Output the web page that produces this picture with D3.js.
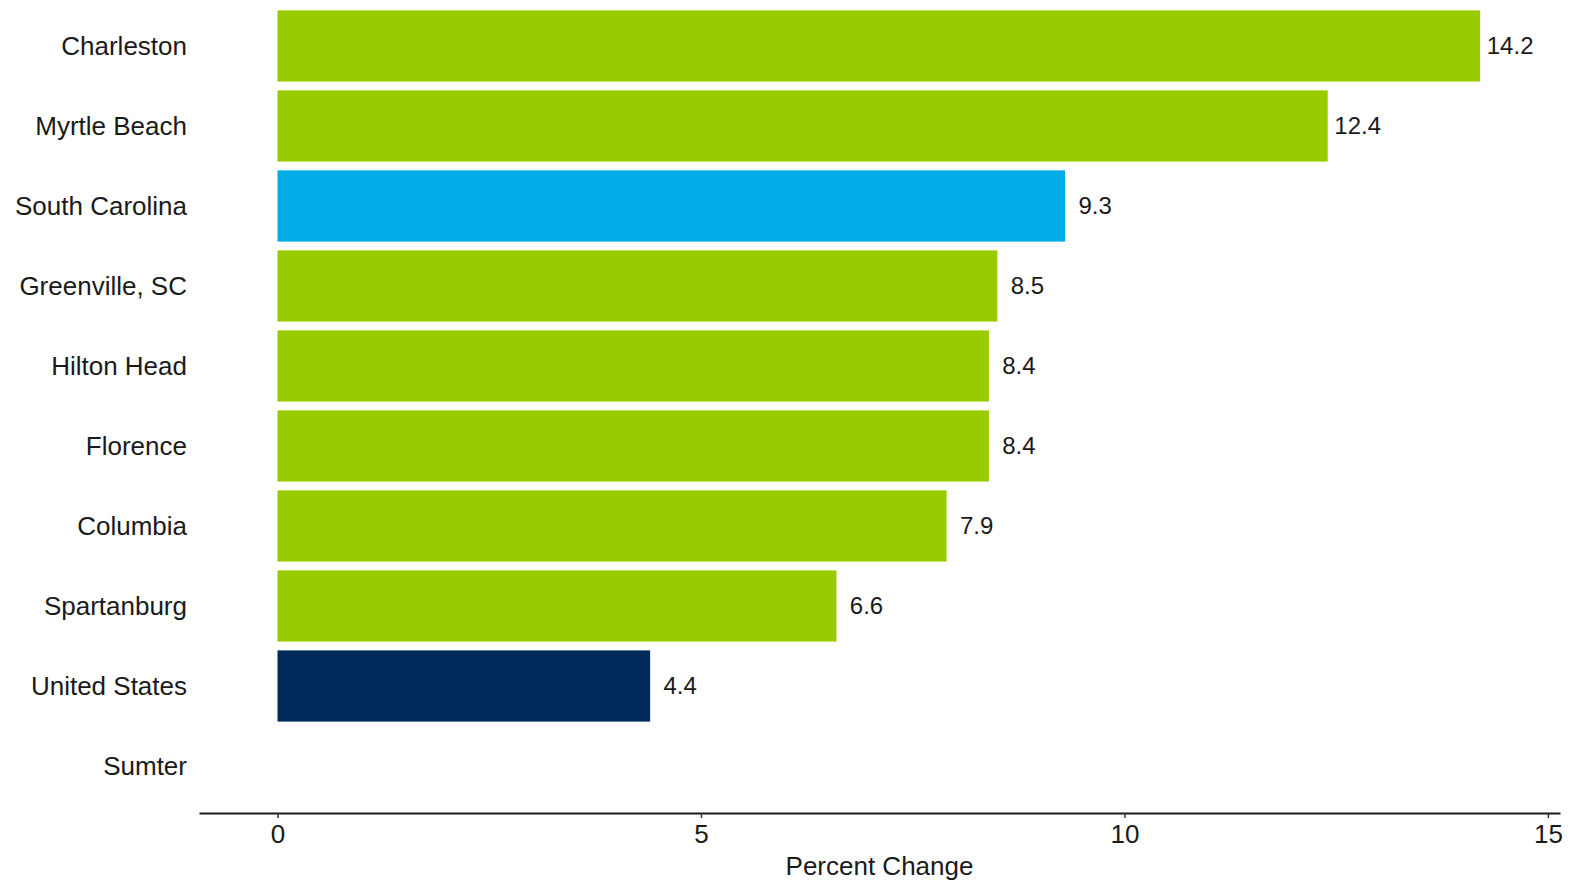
<!DOCTYPE html>
<html>
<head>
<meta charset="utf-8">
<script src="https://cdn.jsdelivr.net/npm/d3@7"></script>
<style>
  body { margin: 0; background: #fff; }
  svg { font-family: "Liberation Sans", Arial, sans-serif; }
</style>
</head>
<body>
<svg width="1571" height="881"></svg>
<script>
const cities = ['Charleston', 'Myrtle Beach', 'South Carolina', 'Greenville, SC', 'Hilton Head',
  'Florence', 'Columbia', 'Spartanburg', 'United States', 'Sumter']
const change = [14.2, 12.4, 9.3, 8.5, 8.4, 8.4, 7.9, 6.6, 4.4, null]
const kind = ['metro', 'metro', 'state', 'metro', 'metro', 'metro', 'metro', 'metro', 'nation', 'metro']
const xTicks = [0, 5, 10, 15]

const colors = { metro: '#99cc00', state: '#00abe6', nation: '#002a5a' }

const svg = d3.select('svg')

// axis runs a bit past 0 and 15, like the original
const x = d3.scaleLinear().domain([-0.927, 15.143]).range([199, 1560])
const y = d3.scaleBand().domain(cities).range([6, 806]).paddingInner(0.11).paddingOuter(0.055)

const rows = cities.map((c, i) => ({ city: c, value: change[i], kind: kind[i] }))

svg.append('g')
  .selectAll('rect')
  .data(rows.filter((d) => d.value != null))
  .join('rect')
  .attr('x', x(0))
  .attr('y', (d) => y(d.city))
  .attr('width', (d) => x(d.value) - x(0))
  .attr('height', y.bandwidth())
  .attr('fill', (d) => colors[d.kind])

// value labels sit centred a fixed distance past the bar end
svg.append('g')
  .selectAll('text')
  .data(rows.filter((d) => d.value != null))
  .join('text')
  .attr('x', (d) => x(d.value) + 30)
  .attr('y', (d) => y(d.city) + y.bandwidth() / 2)
  .attr('dy', '0.35em')
  .attr('text-anchor', 'middle')
  .attr('font-size', 24)
  .attr('fill', '#1a1a1a')
  .text((d) => d.value.toFixed(1))

// category labels
svg.append('g')
  .selectAll('text')
  .data(cities)
  .join('text')
  .attr('x', 187)
  .attr('y', (d) => y(d) + y.bandwidth() / 2)
  .attr('dy', '0.35em')
  .attr('text-anchor', 'end')
  .attr('font-size', 26)
  .attr('fill', '#1a1a1a')
  .text((d) => d)

const xAxis = svg.append('g')
  .attr('transform', 'translate(0,813)')
  .call(d3.axisBottom(x).tickValues(xTicks).tickSize(5).tickPadding(7).tickSizeOuter(0))
xAxis.select('.domain').attr('stroke', '#1a1a1a').attr('stroke-width', 2.2)
xAxis.selectAll('.tick line').attr('stroke', '#333').attr('stroke-width', 1.5)
xAxis.selectAll('.tick text')
  .attr('font-family', '"Liberation Sans", Arial, sans-serif')
  .attr('font-size', 26)
  .attr('fill', '#1a1a1a')

svg.append('text')
  .attr('x', (x.range()[0] + x.range()[1]) / 2)
  .attr('y', 875)
  .attr('text-anchor', 'middle')
  .attr('font-size', 26)
  .attr('fill', '#1a1a1a')
  .text('Percent Change')
</script>
</body>
</html>
